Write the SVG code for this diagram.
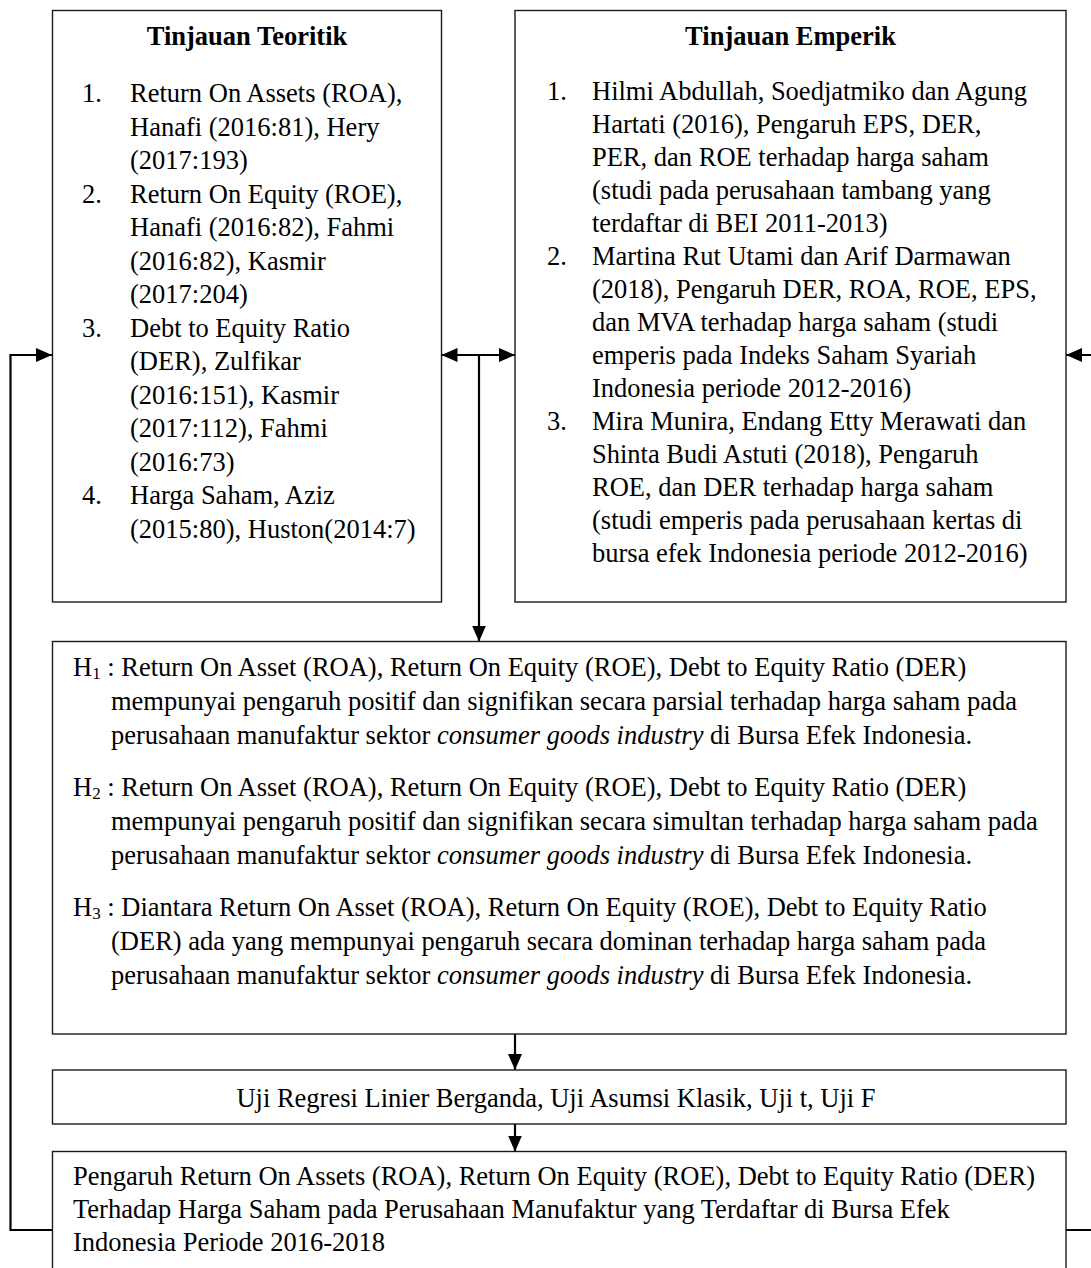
<svg xmlns="http://www.w3.org/2000/svg" width="1091" height="1268" viewBox="0 0 1091 1268">
<style>
  text { font-family: "Liberation Serif", "Times New Roman", serif; font-size: 26.5px; fill: #000; }
  .title { font-weight: bold; text-anchor: middle; }
  .mid { text-anchor: middle; }
  .box { fill: #fff; stroke: #1a1a1a; stroke-width: 1.4; }
  .conn { fill: none; stroke: #000; stroke-width: 2.2; }
  .it { font-style: italic; }
</style>
<defs>
  <marker id="ah" viewBox="0 0 16 14" refX="16" refY="7" markerWidth="16" markerHeight="14" markerUnits="userSpaceOnUse" orient="auto-start-reverse">
    <path d="M0,0 L16,7 L0,14 z" fill="#000"/>
  </marker>
</defs>
<rect width="1091" height="1268" fill="#fff"/>

<g id="connectors">
  <path class="conn" d="M52,1230 H10.5 V355 H52" marker-end="url(#ah)"/>
  <path class="conn" d="M1066,1230 H1096 V355 H1066" marker-end="url(#ah)"/>
  <path class="conn" d="M441.5,355 H515" marker-start="url(#ah)" marker-end="url(#ah)"/>
  <path class="conn" d="M479,355 V641.5" marker-end="url(#ah)"/>
  <path class="conn" d="M515,1034 V1070" marker-end="url(#ah)"/>
  <path class="conn" d="M515,1124 V1151.5" marker-end="url(#ah)"/>
</g>

<g id="teoritik">
  <rect class="box" x="52.5" y="10.5" width="389" height="591.5"/>
  <text class="title" x="247" y="45">Tinjauan Teoritik</text>
  <text x="82" y="102">1.</text>
  <text x="130" y="102">Return On Assets (ROA),</text>
  <text x="130" y="135.5">Hanafi (2016:81), Hery</text>
  <text x="130" y="169">(2017:193)</text>
  <text x="82" y="202.5">2.</text>
  <text x="130" y="202.5">Return On Equity (ROE),</text>
  <text x="130" y="236">Hanafi (2016:82), Fahmi</text>
  <text x="130" y="269.5">(2016:82), Kasmir</text>
  <text x="130" y="303">(2017:204)</text>
  <text x="82" y="336.5">3.</text>
  <text x="130" y="336.5">Debt to Equity Ratio</text>
  <text x="130" y="370">(DER), Zulfikar</text>
  <text x="130" y="403.5">(2016:151), Kasmir</text>
  <text x="130" y="437">(2017:112), Fahmi</text>
  <text x="130" y="470.5">(2016:73)</text>
  <text x="82" y="504">4.</text>
  <text x="130" y="504">Harga Saham, Aziz</text>
  <text x="130" y="537.5">(2015:80), Huston(2014:7)</text>
</g>

<g id="emperik">
  <rect class="box" x="515" y="10.5" width="551" height="591.5"/>
  <text class="title" x="790.5" y="45">Tinjauan Emperik</text>
  <text x="547" y="100">1.</text>
  <text x="592" y="100">Hilmi Abdullah, Soedjatmiko dan Agung</text>
  <text x="592" y="133">Hartati (2016), Pengaruh EPS, DER,</text>
  <text x="592" y="166">PER, dan ROE terhadap harga saham</text>
  <text x="592" y="199">(studi pada perusahaan tambang yang</text>
  <text x="592" y="232">terdaftar di BEI 2011-2013)</text>
  <text x="547" y="265">2.</text>
  <text x="592" y="265">Martina Rut Utami dan Arif Darmawan</text>
  <text x="592" y="298">(2018), Pengaruh DER, ROA, ROE, EPS,</text>
  <text x="592" y="331">dan MVA terhadap harga saham (studi</text>
  <text x="592" y="364">emperis pada Indeks Saham Syariah</text>
  <text x="592" y="397">Indonesia periode 2012-2016)</text>
  <text x="547" y="430">3.</text>
  <text x="592" y="430">Mira Munira, Endang Etty Merawati dan</text>
  <text x="592" y="463">Shinta Budi Astuti (2018), Pengaruh</text>
  <text x="592" y="496">ROE, dan DER terhadap harga saham</text>
  <text x="592" y="529">(studi emperis pada perusahaan kertas di</text>
  <text x="592" y="562">bursa efek Indonesia periode 2012-2016)</text>
</g>

<g id="hipotesis">
  <rect class="box" x="52.5" y="641.5" width="1013.5" height="392.5"/>
  <text x="73" y="676">H<tspan font-size="17" dy="3">1</tspan><tspan dy="-3"> : Return On Asset (ROA), Return On Equity (ROE), Debt to Equity Ratio (DER)</tspan></text>
  <text x="111" y="710">mempunyai pengaruh positif dan signifikan secara parsial terhadap harga saham pada</text>
  <text x="111" y="744">perusahaan manufaktur sektor <tspan class="it">consumer goods industry</tspan> di Bursa Efek Indonesia.</text>
  <text x="73" y="796">H<tspan font-size="17" dy="3">2</tspan><tspan dy="-3"> : Return On Asset (ROA), Return On Equity (ROE), Debt to Equity Ratio (DER)</tspan></text>
  <text x="111" y="830">mempunyai pengaruh positif dan signifikan secara simultan terhadap harga saham pada</text>
  <text x="111" y="864">perusahaan manufaktur sektor <tspan class="it">consumer goods industry</tspan> di Bursa Efek Indonesia.</text>
  <text x="73" y="916">H<tspan font-size="17" dy="3">3</tspan><tspan dy="-3"> : Diantara Return On Asset (ROA), Return On Equity (ROE), Debt to Equity Ratio</tspan></text>
  <text x="111" y="950">(DER) ada yang mempunyai pengaruh secara dominan terhadap harga saham pada</text>
  <text x="111" y="984">perusahaan manufaktur sektor <tspan class="it">consumer goods industry</tspan> di Bursa Efek Indonesia.</text>
</g>

<g id="uji">
  <rect class="box" x="52.5" y="1070" width="1013.5" height="54"/>
  <text class="mid" x="556" y="1107">Uji Regresi Linier Berganda, Uji Asumsi Klasik, Uji t, Uji F</text>
</g>

<g id="kesimpulan">
  <rect class="box" x="52.5" y="1151.5" width="1013.5" height="140"/>
  <text x="73" y="1185">Pengaruh Return On Assets (ROA), Return On Equity (ROE), Debt to Equity Ratio (DER)</text>
  <text x="73" y="1218">Terhadap Harga Saham pada Perusahaan Manufaktur yang Terdaftar di Bursa Efek</text>
  <text x="73" y="1251">Indonesia Periode 2016-2018</text>
</g>
</svg>
